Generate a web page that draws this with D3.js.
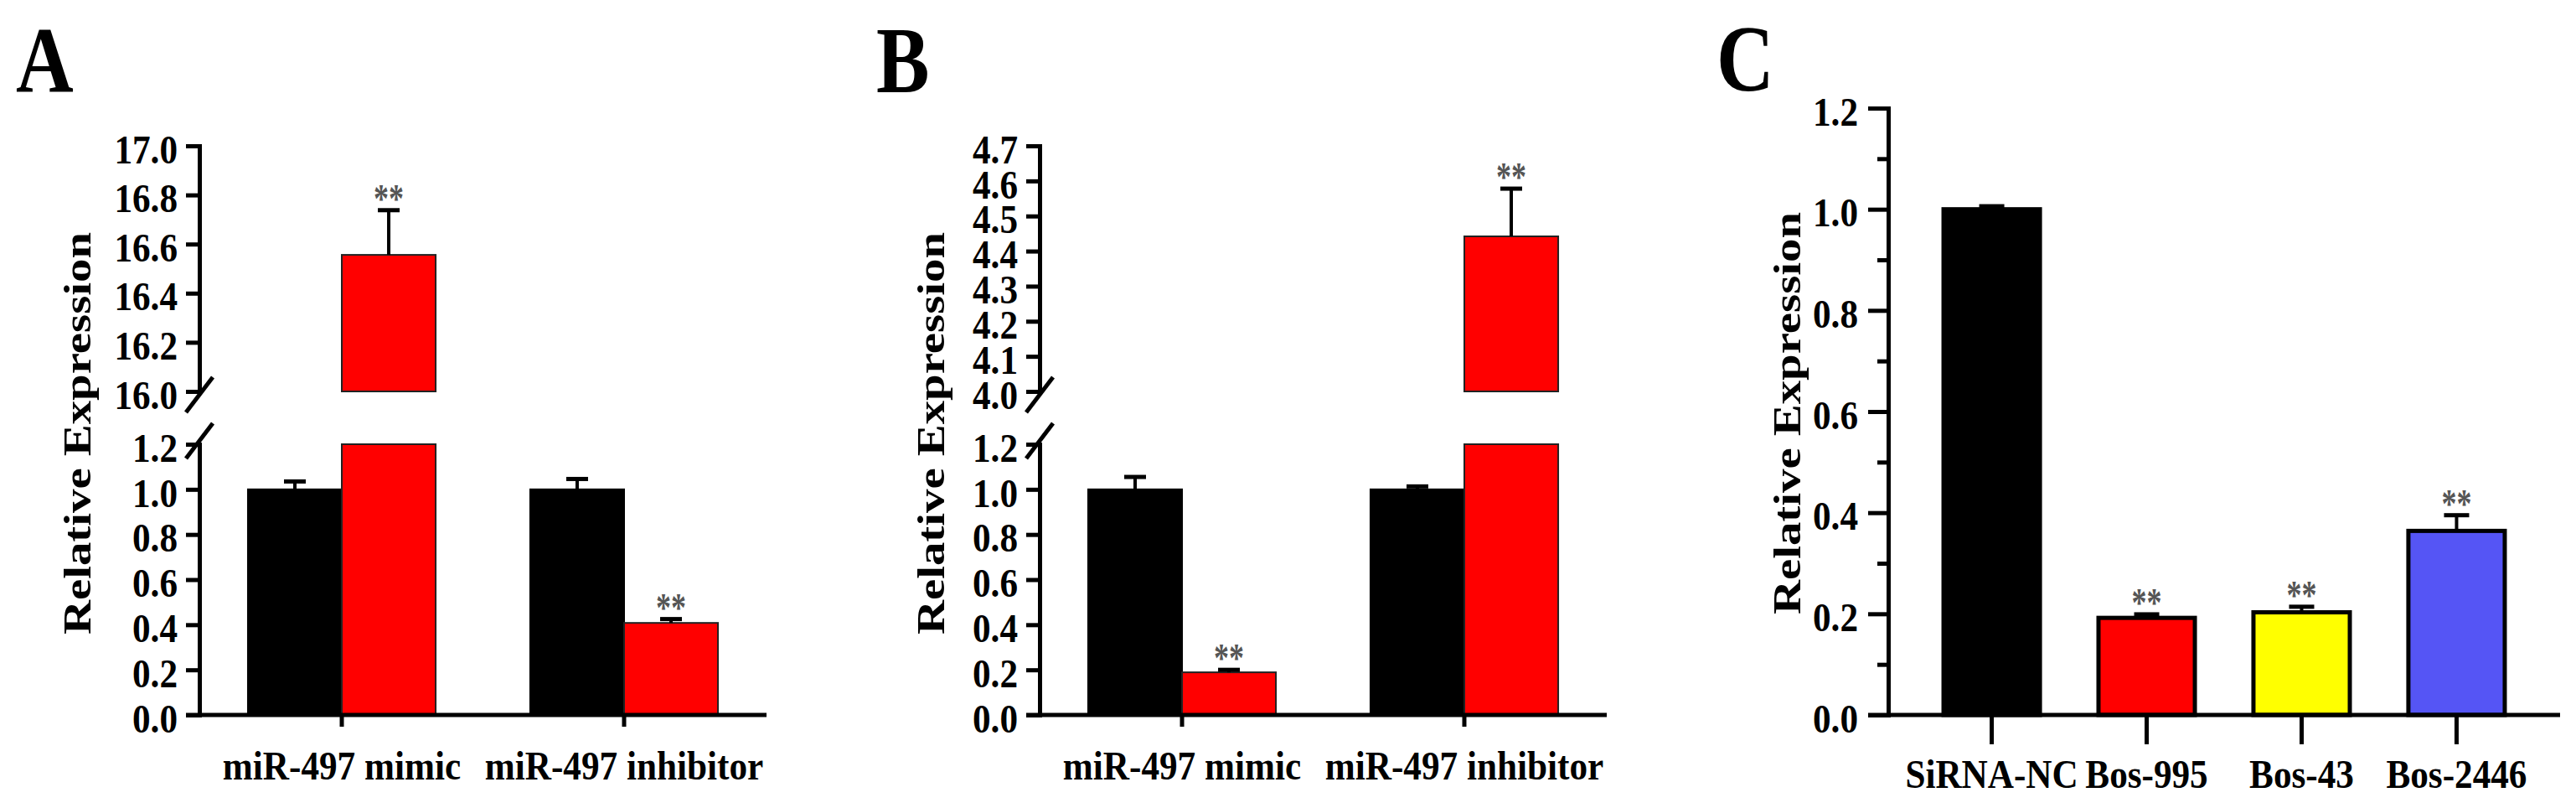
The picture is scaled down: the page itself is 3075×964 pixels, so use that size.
<!DOCTYPE html>
<html><head><meta charset="utf-8">
<script src="https://cdn.jsdelivr.net/npm/d3@7"></script>
<style>
html,body{margin:0;padding:0;background:#fff;}
svg{display:block;}
text{font-family:"Liberation Serif","Times New Roman",serif;font-weight:bold;}
</style></head><body>
<svg id="chart" width="3075" height="964"></svg>
<script>
// ---------------- DATA ----------------
const groupsAB = ["miR-497 mimic", "miR-497 inhibitor"];
const seriesAB = ["control", "miR-497"];

const panelA_control    = [1.0, 1.0];
const panelA_controlErr = [0.035, 0.046];
const panelA_treated    = [16.556, 0.408];
const panelA_treatedErr = [0.182, 0.017];
const panelA_sig        = [["", "**"], ["", "**"]];

const panelB_control    = [1.0, 1.0];
const panelB_controlErr = [0.055, 0.013];
const panelB_treated    = [0.189, 4.442];
const panelB_treatedErr = [0.011, 0.136];
const panelB_sig        = [["", "**"], ["", "**"]];

const lowerTicksAB = [0.0, 0.2, 0.4, 0.6, 0.8, 1.0, 1.2];
const upperTicksA  = [16.0, 16.2, 16.4, 16.6, 16.8, 17.0];
const upperTicksB  = [4.0, 4.1, 4.2, 4.3, 4.4, 4.5, 4.6, 4.7];

const categoriesC = ["SiRNA-NC", "Bos-995", "Bos-43", "Bos-2446"];
const valuesC     = [1.0, 0.192, 0.203, 0.364];
const errorsC     = [0.006, 0.007, 0.011, 0.031];
const sigC        = ["", "**", "**", "**"];
const colorsC     = ["#000000", "#ff0000", "#ffff00", "#5555f5"];
const majorTicksC = [0.0, 0.2, 0.4, 0.6, 0.8, 1.0, 1.2];
const minorTicksC = [0.1, 0.3, 0.5, 0.7, 0.9, 1.1];

const yLabel = "Relative Expression";
const panelLetters = ["A", "B", "C"];

// ---------------- DRAWING ----------------
const svg = d3.select("#chart");
const K = 0.9;           // horizontal condensing of the text
const LW = 5;            // axis line width
const fmt = d3.format(".1f");

function styleAxis(sel, labelGap) {
  sel.select(".domain").attr("stroke", "#000").attr("stroke-width", LW).attr("stroke-linecap", "square");
  sel.selectAll(".tick line").attr("stroke", "#000").attr("stroke-width", LW);
  sel.selectAll(".tick text")
    .attr("font-size", 48).attr("fill", "#000")
    .attr("x", -labelGap / K).attr("dy", "0.42em")
    .attr("transform", `scale(${K},1)`);
}

function sigText(g, x, capY, s) {
  if (!s) return;
  g.append("text").attr("x", x).attr("y", capY + 2)
    .attr("text-anchor", "middle").attr("font-size", 48).attr("fill", "#555")
    .attr("textLength", 36).attr("lengthAdjust", "spacingAndGlyphs").text(s);
}

function errBar(g, x, y0, y1, capW) {
  g.append("line").attr("x1", x).attr("x2", x).attr("y1", y0).attr("y2", y1)
    .attr("stroke", "#000").attr("stroke-width", 4);
  g.append("line").attr("x1", x - capW / 2).attr("x2", x + capW / 2).attr("y1", y1).attr("y2", y1)
    .attr("stroke", "#000").attr("stroke-width", 5);
}

function yTitle(g, cx, cy) {
  g.append("text").attr("transform", `translate(${cx},${cy}) rotate(-90)`)
    .attr("text-anchor", "middle").attr("dy", "0.36em").attr("font-size", 46)
    .attr("textLength", 480).attr("lengthAdjust", "spacingAndGlyphs").text(yLabel);
}

function letter(g, x, y, t) {
  g.append("text").attr("transform", `translate(${x},${y}) scale(0.85,1)`)
    .attr("font-size", 112).text(t);
}

function brokenPanel(cfg) {
  const g = svg.append("g");
  const yLow = d3.scaleLinear().domain([0, 1.2]).range([853, 530]);
  const yUp = d3.scaleLinear().domain([cfg.upperTicks[0], cfg.upperTicks[cfg.upperTicks.length - 1]]).range([467, 174]);
  const x0 = d3.scaleBand().domain(groupsAB).range([cfg.axisX, cfg.xEnd]).paddingInner(0.335).paddingOuter(0.172);
  const x1 = d3.scaleBand().domain(seriesAB).range([0, x0.bandwidth()]).padding(0);
  const colors = ["#000000", "#ff0000"];

  groupsAB.forEach((grp, i) => {
    const vals = [cfg.control[i], cfg.treated[i]];
    const errs = [cfg.controlErr[i], cfg.treatedErr[i]];
    seriesAB.forEach((s, j) => {
      const v = vals[j], e = errs[j];
      const bx = x0(grp) + x1(s), bw = x1.bandwidth(), cx = bx + bw / 2;
      const stroke = j === 1 ? "#222" : "#000";
      let topY, capY;
      if (v <= 1.2) {
        g.append("rect").attr("x", bx).attr("y", yLow(v)).attr("width", bw).attr("height", yLow(0) - yLow(v))
          .attr("fill", colors[j]).attr("stroke", stroke).attr("stroke-width", 2);
        topY = yLow(v); capY = yLow(v + e);
      } else {
        g.append("rect").attr("x", bx).attr("y", yLow(1.2)).attr("width", bw).attr("height", yLow(0) - yLow(1.2))
          .attr("fill", colors[j]).attr("stroke", stroke).attr("stroke-width", 2);
        const base = yUp.domain()[0];
        g.append("rect").attr("x", bx).attr("y", yUp(v)).attr("width", bw).attr("height", yUp(base) - yUp(v))
          .attr("fill", colors[j]).attr("stroke", stroke).attr("stroke-width", 2);
        topY = yUp(v); capY = yUp(v + e);
      }
      errBar(g, cx, topY, capY, 26);
      sigText(g, cx, capY, cfg.sig[i][j]);
    });
  });

  // y axes (two segments)
  const tl = 16;
  const aLow = g.append("g").attr("transform", `translate(${cfg.axisX},0)`)
    .call(d3.axisLeft(yLow).tickValues(lowerTicksAB).tickFormat(fmt).tickSize(tl).tickSizeOuter(0));
  styleAxis(aLow, 26);
  const aUp = g.append("g").attr("transform", `translate(${cfg.axisX},0)`)
    .call(d3.axisLeft(yUp).tickValues(cfg.upperTicks).tickFormat(fmt).tickSize(tl).tickSizeOuter(0));
  styleAxis(aUp, 26);

  // break marks
  const slash = (cy) => g.append("line")
    .attr("x1", cfg.axisX + 16).attr("y1", cy - 21).attr("x2", cfg.axisX - 16).attr("y2", cy + 21)
    .attr("stroke", "#000").attr("stroke-width", LW);
  slash(yUp.range()[0] + 4);
  slash(yLow.range()[1] - 4);

  // x axis
  g.append("line").attr("x1", cfg.axisX - tl).attr("x2", cfg.xEnd).attr("y1", yLow(0)).attr("y2", yLow(0))
    .attr("stroke", "#000").attr("stroke-width", LW);
  const ax = g.append("g").attr("transform", `translate(0,${yLow(0)})`)
    .call(d3.axisBottom(x0).tickSize(14).tickSizeOuter(0));
  ax.select(".domain").remove();
  ax.selectAll(".tick line").attr("stroke", "#000").attr("stroke-width", LW);
  ax.selectAll(".tick text").attr("font-size", 48).attr("fill", "#000")
    .attr("y", null).attr("dy", null).attr("transform", `translate(0,77) scale(${K},1)`);

  yTitle(g, cfg.labelX, 517);
  letter(g, cfg.letterX, 110, cfg.letter);
}

brokenPanel({axisX: 238, xEnd: 915, upperTicks: upperTicksA,
  control: panelA_control, controlErr: panelA_controlErr, treated: panelA_treated, treatedErr: panelA_treatedErr,
  sig: panelA_sig, labelX: 91, letterX: 19, letter: panelLetters[0]});

brokenPanel({axisX: 1241, xEnd: 1918, upperTicks: upperTicksB,
  control: panelB_control, controlErr: panelB_controlErr, treated: panelB_treated, treatedErr: panelB_treatedErr,
  sig: panelB_sig, labelX: 1110, letterX: 1046, letter: panelLetters[1]});

// Panel C
(function () {
  const g = svg.append("g");
  const axisX = 2254, xEnd = 3056;
  const y = d3.scaleLinear().domain([0, 1.2]).range([853, 129]);
  const x = d3.scaleBand().domain(categoriesC).range([axisX, xEnd]).paddingInner(0.378).paddingOuter(0.357);
  categoriesC.forEach((c, i) => {
    const v = valuesC[i], e = errorsC[i];
    const cx = x(c) + x.bandwidth() / 2;
    g.append("rect").attr("x", x(c)).attr("y", y(v)).attr("width", x.bandwidth()).attr("height", y(0) - y(v))
      .attr("fill", colorsC[i]).attr("stroke", "#000").attr("stroke-width", 5);
    errBar(g, cx, y(v), y(v + e), 30);
    sigText(g, cx, y(v + e), sigC[i]);
  });
  const tl = 24;
  const ay = g.append("g").attr("transform", `translate(${axisX},0)`)
    .call(d3.axisLeft(y).tickValues(majorTicksC).tickFormat(fmt).tickSize(tl).tickSizeOuter(0));
  styleAxis(ay, 36);
  const am = g.append("g").attr("transform", `translate(${axisX},0)`)
    .call(d3.axisLeft(y).tickValues(minorTicksC).tickFormat("").tickSize(13).tickSizeOuter(0));
  am.select(".domain").remove();
  am.selectAll(".tick line").attr("stroke", "#000").attr("stroke-width", LW);

  g.append("line").attr("x1", axisX - tl).attr("x2", xEnd).attr("y1", y(0)).attr("y2", y(0))
    .attr("stroke", "#000").attr("stroke-width", LW);
  const ax = g.append("g").attr("transform", `translate(0,${y(0)})`)
    .call(d3.axisBottom(x).tickSize(35).tickSizeOuter(0));
  ax.select(".domain").remove();
  ax.selectAll(".tick line").attr("stroke", "#000").attr("stroke-width", LW);
  ax.selectAll(".tick text").attr("font-size", 48).attr("fill", "#000")
    .attr("y", null).attr("dy", null).attr("transform", `translate(0,87) scale(${K},1)`);

  yTitle(g, 2132, 493);
  letter(g, 2049, 108, panelLetters[2]);
})();
</script>
</body></html>
